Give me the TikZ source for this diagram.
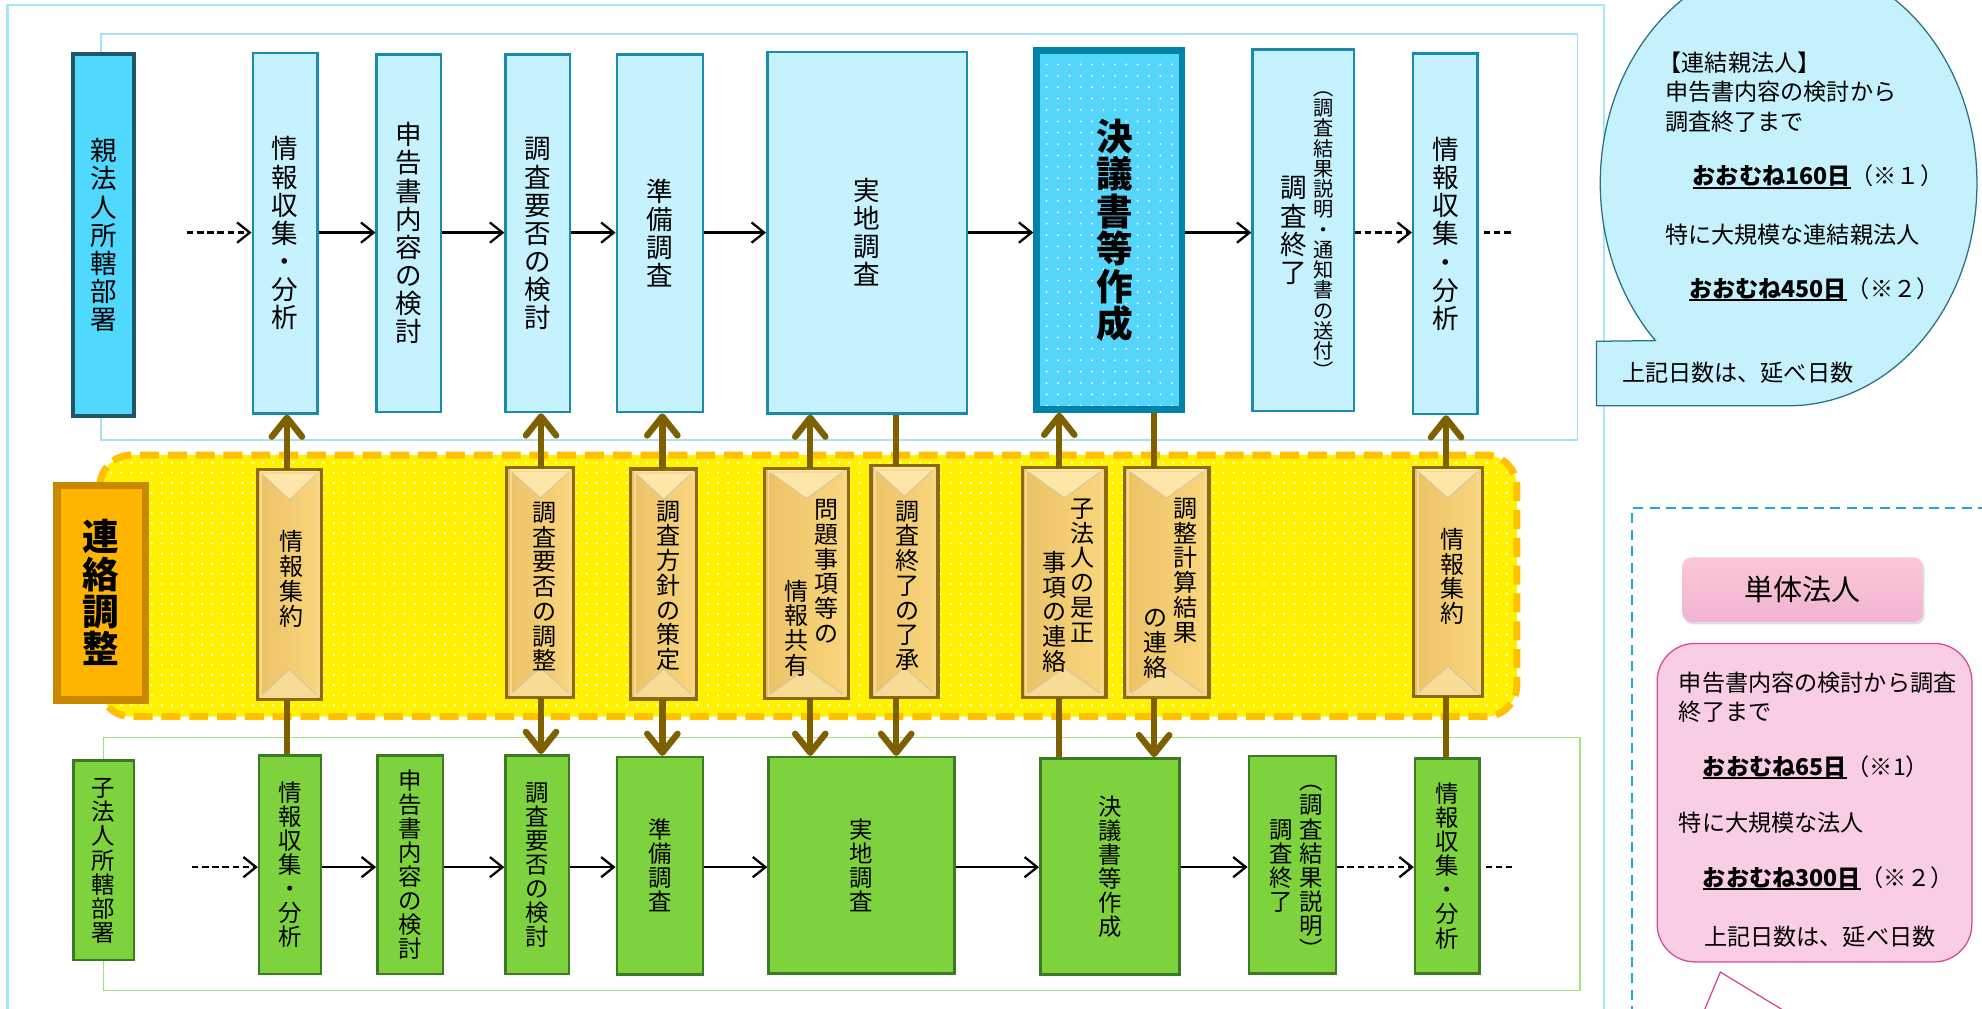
\documentclass[tikz,border=0pt]{standalone}
\usepackage{fontspec}
\setmainfont{Noto Sans CJK JP}
\usetikzlibrary{arrows.meta,patterns.meta,shadows}
\makeatletter
\newcommand\vt[2][0.05]{\vbox{\offinterlineskip\@tfor\vtch:=#2\do{\hbox to 1em{\hss\vrule height .88em depth .12em width 0pt\vtch\hss}\kern#1em}\kern-#1em}}
\makeatother
\newcommand\fs[1]{\fontsize{#1}{#1}\selectfont}
\newcommand\ulx[1]{\setbox0\hbox{#1}\rlap{\rule[-0.17em]{\wd0}{0.09em}}\box0}
\definecolor{topFill}{HTML}{C5F2FE}
\definecolor{topDraw}{HTML}{1B8BAA}
\definecolor{parFill}{HTML}{50D8FE}
\definecolor{parDraw}{HTML}{1E5768}
\definecolor{sixFill}{HTML}{55D5FA}
\definecolor{sixDraw}{HTML}{0083A6}
\definecolor{grFill}{HTML}{7ED23E}
\definecolor{grDraw}{HTML}{3D7A23}
\definecolor{frBlue}{HTML}{A4E9FA}
\definecolor{frTop}{HTML}{A6E2F4}
\definecolor{frGreen}{HTML}{A8DF80}
\definecolor{bandDraw}{HTML}{FFC000}
\definecolor{renFill}{HTML}{FFB400}
\definecolor{renDraw}{HTML}{C88800}
\definecolor{brn}{HTML}{7F6000}
\definecolor{barDraw}{HTML}{8B6A10}
\definecolor{barL}{HTML}{EBC266}
\definecolor{barR}{HTML}{FAD67E}
\definecolor{barT}{HTML}{FDE6A8}
\definecolor{barB}{HTML}{F8DB95}
\definecolor{barRim}{HTML}{F6DA92}
\definecolor{bubFill}{HTML}{C5F1FD}
\definecolor{bubDraw}{HTML}{2A7088}
\definecolor{dashBlue}{HTML}{1FA7D9}
\definecolor{pinkFill}{HTML}{F9CDE3}
\definecolor{pinkDraw}{HTML}{D24A95}
\tikzset{
  tbox/.style={draw=topDraw, fill=topFill, line width=2pt, inner sep=0pt, font=\fs{21}},
  pbox/.style={draw=parDraw, fill=parFill, line width=3pt, inner sep=0pt, font=\fs{21}},
  sixbox/.style={preaction={fill=sixFill}, pattern={Dots[distance=9pt,radius=0.8pt]}, pattern color=white, draw=sixDraw, line width=5pt, inner sep=0pt},
  gbox/.style={draw=grDraw, fill=grFill, line width=2pt, inner sep=0pt, font=\fs{18.5}},
  renbox/.style={draw=renDraw, fill=renFill, line width=6pt, inner sep=0pt},
  barbox/.style={left color=barL, right color=barR, inner sep=0pt, outer sep=0pt},
  vtext/.style={inner sep=0pt},
  blarrow/.style={line width=1.8pt, -{Straight Barb[length=10pt,width=16pt]}},
  bldash/.style={blarrow, dash pattern=on 5pt off 3pt},
  bldline/.style={line width=1.8pt, dash pattern=on 5pt off 3pt},
  brarrow/.style={draw=brn, line width=5pt, -{Straight Barb[length=15pt,width=24pt,round]}},
  brline/.style={draw=brn, line width=5pt},
  txt/.style={inner sep=0pt, anchor=west, font=\fs{18.3}},
}
\newcommand\bbar[5]{%
  \node[barbox, minimum width=#4pt, minimum height=#5pt] (#1) at (#2,#3) {};
  \fill[barT] (#1.north west) -- (#1.north east) -- ([shift={(0,24)}]#1.north) -- cycle;
  \fill[barB] (#1.south west) -- (#1.south east) -- ([shift={(0,-24)}]#1.south) -- cycle;
  \draw[barDraw!40, line width=0.7pt] (#1.north west) -- ([shift={(0,24)}]#1.north) -- (#1.north east) (#1.south west) -- ([shift={(0,-24)}]#1.south) -- (#1.south east);
  \draw[barRim, line width=1.5pt] ([shift={(3,3)}]#1.north west) rectangle ([shift={(-3,-3)}]#1.south east);
  \draw[barDraw, line width=2.5pt] (#1.north west) rectangle (#1.south east);
}
\begin{document}
\begin{tikzpicture}[x=1pt,y=-1pt]
\useasboundingbox (0,0) rectangle (1568,798);
\clip (0,0) rectangle (1568,798);
\fill[white] (0,0) rectangle (1568,798);
% frames
\draw[frBlue, line width=2pt] (6,830) -- (6,4) -- (1269,4) -- (1269,830);
\draw[frTop, line width=1.3pt] (80,27) rectangle (1248,348);
\draw[frGreen, line width=1.3pt] (82,583.5) rectangle (1250,783.5);
% band
\fill[yellow, rounded corners=25pt] (79,360) rectangle (1200,567);
\fill[pattern={Dots[distance=8pt,radius=0.9pt]}, pattern color=white, rounded corners=25pt] (81,362) rectangle (1198,565);
\draw[bandDraw, line width=5.5pt, dash pattern=on 15pt off 7pt, rounded corners=25pt] (79,360) rectangle (1200,567);
% top row
\node[pbox, minimum width=48pt, minimum height=286pt] (t0) at (82,186) {\vt[0.06]{親法人所轄部署}};
\node[tbox, minimum width=51pt, minimum height=285pt] (t1) at (225.5,184.5) {\vt[0.06]{情報収集・分析}};
\node[tbox, minimum width=51pt, minimum height=283pt] (t2) at (323.5,184.5) {\vt[0.06]{申告書内容の検討}};
\node[tbox, minimum width=51pt, minimum height=283pt] (t3) at (425.5,184.5) {\vt[0.06]{調査要否の検討}};
\node[tbox, minimum width=68pt, minimum height=283pt] (t4) at (522,184.5) {\vt[0.06]{準備調査}};
\node[tbox, minimum width=158pt, minimum height=286pt] (t5) at (686,184) {\vt[0.06]{実地調査}};
\node[sixbox, minimum width=115pt, minimum height=284pt, font=\fs{29}\bfseries] (t6) at (877.5,182) {\hskip9pt\vt[0.02]{決議書等作成}};
\node[tbox, minimum width=80pt, minimum height=286pt] (t7) at (1031,182) {};
\node[vtext, font=\fs{16}] (t7r) at (1047,181.5) {\vt[0]{︵調査結果説明・通知書の送付︶}};
\node[vtext, font=\fs{21}] (t7l) at (1023.5,182) {\vt[0.06]{調査終了}};
\node[tbox, minimum width=51pt, minimum height=285pt] (t8) at (1143.5,185) {\vt[0.06]{情報収集・分析}};
% bottom row
\node[gbox, minimum width=48pt, minimum height=158pt] (s0) at (82,680.5) {\vt[0.03]{子法人所轄部署}};
\node[gbox, minimum width=49pt, minimum height=173pt] (s1) at (229.5,684) {\vt[0.03]{情報収集・分析}};
\node[gbox, minimum width=52pt, minimum height=173pt] (s2) at (324.5,684) {\vt[0.03]{申告書内容の検討}};
\node[gbox, minimum width=50pt, minimum height=173pt] (s3) at (425,684) {\vt[0.03]{調査要否の検討}};
\node[gbox, minimum width=68pt, minimum height=172pt] (s4) at (522,685) {\vt[0.03]{準備調査}};
\node[gbox, minimum width=147pt, minimum height=171pt] (s5) at (681.5,684.5) {\vt[0.03]{実地調査}};
\node[gbox, minimum width=110pt, minimum height=171pt] (s6) at (878,685.5) {\vt[0.03]{決議書等作成}};
\node[gbox, minimum width=69pt, minimum height=172pt] (s7) at (1022.5,684) {};
\node[vtext, font=\fs{18.5}] (s7r) at (1037,684.5) {\vt[0.03]{︵調査結果説明︶}};
\node[vtext, font=\fs{18.5}] (s7l) at (1013.5,684.5) {\vt[0.03]{調査終了}};
\node[gbox, minimum width=51pt, minimum height=170pt] (s8) at (1145,685) {\vt[0.03]{情報収集・分析}};
% coordination bars
\bbar{bA}{229}{462.5}{51}{182}
\bbar{bB}{427.5}{461}{53}{182}
\bbar{bC}{525}{462}{52}{182}
\bbar{bD}{638}{461.5}{66}{182}
\bbar{bE}{715.5}{460}{53}{183}
\bbar{bF}{842}{461}{66}{182}
\bbar{bG}{923}{461}{67}{182}
\bbar{bH}{1145.5}{460.5}{54}{181}
\node[vtext, font=\fs{19}] (bAt) at (231,458) {\vt[0.03]{情報集約}};
\node[vtext, font=\fs{19}] (bBt) at (431,464) {\vt[0.03]{調査要否の調整}};
\node[vtext, font=\fs{19}] (bCt) at (528.5,463) {\vt[0.03]{調査方針の策定}};
\node[vtext, font=\fs{19}] (bDr) at (654,452) {\vt[0.03]{問題事項等の}};
\node[vtext, font=\fs{19}] (bDl) at (630,497) {\vt[0.03]{情報共有}};
\node[vtext, font=\fs{19}] (bEt) at (718,463) {\vt[0.03]{調査終了の了承}};
\node[vtext, font=\fs{19}] (bFr) at (856,451) {\vt[0.03]{子法人の是正}};
\node[vtext, font=\fs{19}] (bFl) at (834,484) {\vt[0.03]{事項の連絡}};
\node[vtext, font=\fs{19}] (bGr) at (938,451) {\vt[0.03]{調整計算結果}};
\node[vtext, font=\fs{19}] (bGl) at (914.5,508) {\vt[0.03]{の連絡}};
\node[vtext, font=\fs{19}] (bHt) at (1149,456) {\vt[0.03]{情報集約}};
\node[renbox, minimum width=70pt, minimum height=170pt, font=\fs{29}\bfseries] (ren) at (80,469) {\vt[0.02]{連絡調整}};
% brown connectors
\coordinate (lA) at (227,0);
\coordinate (lB) at (428,0);
\coordinate (lC) at (524,0);
\coordinate (lD) at (641,0);
\coordinate (lE) at (709,0);
\coordinate (lF) at (838,0);
\coordinate (lG) at (913,0);
\coordinate (lH) at (1144,0);
\draw[brarrow] (bA.north -| lA) -- (t1.south -| lA);
\draw[brline] (bA.south -| lA) -- (s1.north -| lA);
\draw[brarrow] (bB.north -| lB) -- (t3.south -| lB);
\draw[brarrow] (bB.south -| lB) -- (s3.north -| lB);
\draw[brarrow] (bC.north -| lC) -- (t4.south -| lC);
\draw[brarrow] (bC.south -| lC) -- (s4.north -| lC);
\draw[brarrow] (bD.north -| lD) -- (t5.south -| lD);
\draw[brarrow] (bD.south -| lD) -- (s5.north -| lD);
\draw[brline] (bE.north -| lE) -- (t5.south -| lE);
\draw[brarrow] (bE.south -| lE) -- (s5.north -| lE);
\draw[brarrow] (bF.north -| lF) -- (t6.south -| lF);
\draw[brline] (bF.south -| lF) -- (s6.north -| lF);
\draw[brline] (bG.north -| lG) -- (t6.south -| lG);
\draw[brarrow] (bG.south -| lG) -- (s6.north -| lG);
\draw[brarrow] (bH.north -| lH) -- (t8.south -| lH);
\draw[brline] (bH.south -| lH) -- (s8.north -| lH);
% black flow arrows
\coordinate (ty) at (0,184);
\coordinate (by) at (0,686);
\coordinate (tin) at (148,184);
\coordinate (tout) at (1196,184);
\coordinate (bin) at (152,686);
\coordinate (bout) at (1196,686);
\draw[bldash] (tin) -- (t1.west |- ty);
\draw[blarrow] (t1.east |- ty) -- (t2.west |- ty);
\draw[blarrow] (t2.east |- ty) -- (t3.west |- ty);
\draw[blarrow] (t3.east |- ty) -- (t4.west |- ty);
\draw[blarrow] (t4.east |- ty) -- (t5.west |- ty);
\draw[blarrow] (t5.east |- ty) -- (t6.west |- ty);
\draw[blarrow] (t6.east |- ty) -- (t7.west |- ty);
\draw[bldash] (t7.east |- ty) -- (t8.west |- ty);
\draw[bldline] ([xshift=4]t8.east |- ty) -- (tout);
\draw[bldash] (bin) -- (s1.west |- by);
\draw[blarrow] (s1.east |- by) -- (s2.west |- by);
\draw[blarrow] (s2.east |- by) -- (s3.west |- by);
\draw[blarrow] (s3.east |- by) -- (s4.west |- by);
\draw[blarrow] (s4.east |- by) -- (s5.west |- by);
\draw[blarrow] (s5.east |- by) -- (s6.west |- by);
\draw[blarrow] (s6.east |- by) -- (s7.west |- by);
\draw[bldash] (s7.east |- by) -- (s8.west |- by);
\draw[bldline] ([xshift=4]s8.east |- by) -- (bout);
% speech bubble
\path[draw=bubDraw, fill=bubFill, line width=1pt] (1415,321) arc[start angle=90, end angle=-225, x radius=149, y radius=176] -- (1263,270) -- (1263,321) -- cycle;
\node[txt] (b1) at (1312,50) {【連結親法人】};
\node[txt] (b2) at (1317,72.5) {申告書内容の検討から};
\node[txt] (b3) at (1317,96) {調査終了まで};
\node[txt] (b4) at (1339,140) {\ulx{\bfseries おおむね160日}（※１）};
\node[txt] (b5) at (1317,186) {特に大規模な連結親法人};
\node[txt] (b6) at (1336,229) {\ulx{\bfseries おおむね450日}（※２）};
\node[txt] (b7) at (1283,295) {上記日数は、延べ日数};
% single corporation panel
\draw[dashBlue, line width=2pt, dash pattern=on 8pt off 5pt] (1291,830) -- (1291,402) -- (1600,402);
\node[rounded corners=7pt, top color=pink!40!pinkFill, bottom color=pinkFill!80!pinkDraw, minimum width=190pt, minimum height=51pt, inner sep=0pt, font=\fs{23}, drop shadow={shadow xshift=1.5pt, shadow yshift=-2pt, opacity=0.25}] (tan) at (1426,466.5) {単体法人};
\draw[pinkDraw, line width=1pt, fill=pinkFill, rounded corners=30pt] (1311,509) rectangle (1560,761);
\node[txt] (p1) at (1328,540) {申告書内容の検討から調査};
\node[txt] (p2) at (1328,563) {終了まで};
\node[txt] (p3) at (1347,607) {\ulx{\bfseries おおむね65日}（※1）};
\node[txt] (p4) at (1328,651) {特に大規模な法人};
\node[txt] (p5) at (1347,695) {\ulx{\bfseries おおむね300日}（※２）};
\node[txt] (p6) at (1348,741) {上記日数は、延べ日数};
\coordinate (pa) at (1348,800);
\coordinate (pb) at (1361,769);
\coordinate (pc) at (1412,800);
\draw[pinkDraw, line width=1pt] (pa) -- (pb) -- (pc);
\end{tikzpicture}
\end{document}
